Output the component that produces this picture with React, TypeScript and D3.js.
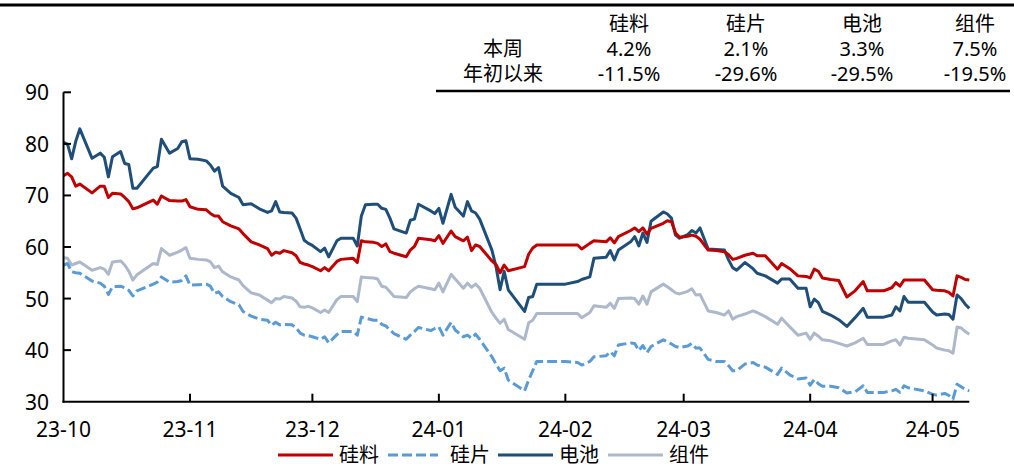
import React from "react";
import * as d3 from "d3";

const dates = ["2023-10-01","2023-10-02","2023-10-03","2023-10-04","2023-10-05","2023-10-08","2023-10-10","2023-10-11","2023-10-12","2023-10-13","2023-10-15","2023-10-16","2023-10-17","2023-10-18","2023-10-19","2023-10-23","2023-10-24","2023-10-25","2023-10-27","2023-10-29","2023-10-30","2023-10-31","2023-11-01","2023-11-03","2023-11-05","2023-11-06","2023-11-07","2023-11-08","2023-11-09","2023-11-11","2023-11-13","2023-11-14","2023-11-16","2023-11-18","2023-11-20","2023-11-21","2023-11-22","2023-11-23","2023-11-24","2023-11-26","2023-11-27","2023-11-28","2023-11-29","2023-11-30","2023-12-01","2023-12-03","2023-12-04","2023-12-05","2023-12-07","2023-12-08","2023-12-11","2023-12-12","2023-12-13","2023-12-14","2023-12-16","2023-12-17","2023-12-18","2023-12-19","2023-12-20","2023-12-21","2023-12-24","2023-12-25","2023-12-26","2023-12-27","2023-12-30","2023-12-31","2024-01-01","2024-01-02","2024-01-04","2024-01-05","2024-01-07","2024-01-08","2024-01-09","2024-01-10","2024-01-11","2024-01-14","2024-01-15","2024-01-16","2024-01-17","2024-01-18","2024-01-22","2024-01-23","2024-01-24","2024-01-25","2024-02-01","2024-02-04","2024-02-05","2024-02-07","2024-02-08","2024-02-11","2024-02-12","2024-02-13","2024-02-14","2024-02-17","2024-02-18","2024-02-19","2024-02-20","2024-02-21","2024-02-22","2024-02-25","2024-02-26","2024-02-27","2024-02-28","2024-02-29","2024-03-02","2024-03-03","2024-03-04","2024-03-05","2024-03-07","2024-03-09","2024-03-11","2024-03-12","2024-03-13","2024-03-14","2024-03-16","2024-03-18","2024-03-19","2024-03-21","2024-03-24","2024-03-25","2024-03-27","2024-03-29","2024-03-31","2024-04-01","2024-04-02","2024-04-03","2024-04-04","2024-04-06","2024-04-08","2024-04-10","2024-04-12","2024-04-14","2024-04-15","2024-04-19","2024-04-21","2024-04-22","2024-04-23","2024-04-24","2024-04-25","2024-04-29","2024-05-01","2024-05-02","2024-05-04","2024-05-05","2024-05-06","2024-05-07","2024-05-08","2024-05-09","2024-05-10"];

// 硅料
const polysilicon = [73.8,74.3,73.6,71.8,72.2,70.5,71.8,71.8,69.6,70.4,70.3,69.6,68.8,67.4,67.6,69.1,68.3,69.9,69.0,68.9,68.9,69.2,67.8,67.3,67.2,66.5,66.0,66.0,64.9,64.1,63.5,62.6,61.0,60.4,59.7,58.4,59.0,58.8,59.3,58.9,58.3,57.0,56.7,56.5,56.2,55.4,56.0,55.4,57.2,57.6,57.8,57.0,61.2,61.0,60.9,60.7,60.1,60.6,59.1,58.8,58.1,59.4,60.1,61.7,61.4,61.2,62.2,60.7,63.1,62.0,61.2,61.9,59.3,60.4,60.1,57.3,56.6,55.0,56.5,55.4,56.2,58.6,59.8,60.4,60.4,60.4,59.6,60.7,61.2,61.0,61.8,60.8,62.0,63.2,63.7,63.0,63.7,62.5,63.6,64.6,65.1,64.9,62.7,61.9,62.1,62.3,62.1,61.5,59.4,59.3,59.1,58.5,57.6,57.8,58.4,58.8,58.3,58.3,55.7,56.8,55.8,54.4,54.3,54.0,55.7,55.3,54.0,53.7,53.5,50.3,51.5,53.3,51.5,51.5,52.1,53.1,52.4,53.6,53.6,53.6,51.7,51.6,51.5,51.2,50.5,54.4,54.1,53.7,53.6];

// 硅片
const wafer = [56.5,56.8,55.2,55.0,54.9,53.4,53.0,52.4,50.8,52.3,52.4,52.1,51.6,50.5,51.5,52.8,53.2,54.2,53.2,53.3,53.5,54.4,52.6,52.7,52.8,52.4,51.0,51.3,50.4,49.4,48.8,47.5,46.6,46.0,45.8,44.8,45.4,44.9,45.0,44.9,44.4,43.3,42.9,42.8,42.6,42.1,42.6,41.4,43.0,43.6,43.6,42.9,46.4,46.2,45.8,45.8,45.0,44.7,43.9,43.2,42.1,42.9,43.6,44.4,43.8,44.2,44.5,42.9,45.4,43.9,42.6,42.9,42.3,43.1,42.1,38.7,37.3,36.0,36.5,34.2,32.1,34.2,36.0,37.8,37.8,37.6,37.1,37.8,38.7,38.9,39.7,38.9,41.0,41.4,41.3,39.9,40.9,39.5,40.7,42.0,41.6,41.2,40.7,40.5,40.8,41.3,40.4,40.4,38.2,37.8,37.8,37.0,36.0,36.0,37.3,37.6,37.1,36.7,35.3,36.5,35.2,34.4,34.6,33.2,34.3,33.5,33.0,33.0,32.7,31.7,31.9,33.1,31.8,31.8,32.1,32.4,31.8,33.1,32.7,32.1,31.4,31.3,31.6,31.2,30.5,33.4,32.9,32.4,32.1];

// 电池
const cell = [80.3,79.9,77.1,80.5,82.9,77.2,78.2,77.4,73.6,77.5,78.5,76.2,76.0,71.4,71.4,75.3,75.6,80.9,78.2,79.1,80.4,80.6,77.1,77.0,76.7,75.9,74.7,75.4,71.8,70.4,69.6,68.2,68.4,67.4,66.7,67.0,68.8,66.8,66.7,66.6,65.6,63.5,61.3,60.7,60.3,59.1,59.8,58.1,61.2,61.7,61.7,60.2,66.0,68.2,68.3,68.3,67.5,67.3,65.6,63.5,62.7,65.2,65.4,68.3,67.0,66.5,67.5,64.6,70.2,67.7,66.0,68.8,67.0,66.6,65.4,59.4,56.2,51.7,55.3,51.7,47.5,50.2,50.4,52.8,52.8,53.3,53.7,54.2,57.8,58.0,59.3,57.5,59.4,61.0,62.0,60.2,62.7,60.9,65.0,66.8,66.4,65.6,62.3,61.7,62.4,63.2,62.7,63.7,59.6,59.5,59.4,57.5,56.0,55.5,57.0,55.8,54.9,54.4,53.0,53.8,53.8,52.0,52.0,48.4,49.9,49.2,47.5,46.8,45.9,44.6,46.3,48.1,46.4,46.4,46.8,48.4,47.6,50.4,49.3,49.3,47.4,46.8,47.0,46.9,46.0,50.7,50.0,48.9,48.1];

// 组件
const modulePrice = [57.9,57.8,56.5,56.8,57.1,55.5,56.0,55.7,54.7,57.1,57.3,56.5,55.3,53.6,54.6,56.8,56.6,59.7,58.4,59.0,59.4,59.9,57.8,57.6,57.5,57.1,56.0,56.3,55.2,54.2,53.6,52.5,51.1,50.7,49.7,49.2,50.0,49.9,50.4,50.1,49.5,48.4,48.3,48.5,48.2,47.3,47.8,47.3,49.8,50.4,50.4,49.4,54.2,54.1,54.0,53.8,52.4,52.2,51.3,50.4,50.2,51.3,51.9,52.4,51.9,51.7,53.0,51.3,54.7,53.8,52.0,53.0,52.2,52.8,52.0,47.3,46.2,45.2,46.0,44.0,42.1,45.3,45.8,47.1,47.1,47.1,46.3,47.3,48.6,48.3,49.1,48.1,50.0,50.1,50.0,48.9,50.5,48.9,51.3,52.8,52.3,51.7,51.1,50.9,51.4,51.9,50.7,50.8,47.6,47.3,46.8,47.6,46.0,46.5,47.0,47.6,47.3,46.5,45.0,46.2,44.5,42.9,43.3,42.1,43.3,42.7,42.0,41.8,41.3,40.8,41.4,42.3,41.1,41.1,41.8,42.0,41.0,42.5,42.3,42.0,41.0,40.4,40.0,39.9,39.4,44.5,44.3,43.6,43.1];

const seriesNames = ["硅料", "硅片", "电池", "组件"];
const weekChange = ["4.2%", "2.1%", "3.3%", "7.5%"];
const ytdChange = ["-11.5%", "-29.6%", "-29.5%", "-19.5%"];
const rowLabels = ["本周", "年初以来"];
const yTicks = [30, 40, 50, 60, 70, 80, 90];

const FONT = "'Microsoft YaHei', 'Noto Sans', 'Noto Sans CJK SC', sans-serif";

export default function App() {
  const W = 1014, H = 467;
  const parse = d3.utcParse("%Y-%m-%d");
  const dts = dates.map((d) => parse(d) as Date);
  const x = d3
    .scaleUtc()
    .domain([parse("2023-10-01") as Date, parse("2024-05-10") as Date])
    .range([63.5, 969.3]);
  const y = d3.scaleLinear().domain([30, 90]).range([401.7, 92.3]);
  const monthTicks = d3.utcMonth.range(parse("2023-10-01") as Date, parse("2024-05-10") as Date);
  const fmt = d3.utcFormat("%y-%m");

  const series = [
    { name: seriesNames[0], values: polysilicon, color: "#C00000", dash: null },
    { name: seriesNames[1], values: wafer, color: "#5B9BD5", dash: "10,4" },
    { name: seriesNames[2], values: cell, color: "#1F4E79", dash: null },
    { name: seriesNames[3], values: modulePrice, color: "#ADB9CA", dash: null },
  ];
  const drawOrder = [3, 1, 2, 0];

  const colX = [629, 746, 862, 975];
  const labelX = 503;
  const legendLines = [278, 388, 498, 608];

  return (
    <svg
      width={W}
      height={H}
      style={{ position: "absolute", left: 0, top: 0, background: "#fff" }}
      fontFamily={FONT}
    >
      <rect x={0} y={0} width={W} height={H} fill="#fff" />
      <line x1={0} x2={W} y1={5} y2={5} stroke="#000" strokeWidth={3} />
      {seriesNames.map((n, i) => (
        <text key={"h" + i} x={colX[i]} y={31} textAnchor="middle" fontSize={20} fill="#000">
          {n}
        </text>
      ))}
      <text x={labelX} y={56} textAnchor="middle" fontSize={20} fill="#000">{rowLabels[0]}</text>
      <text x={labelX} y={81} textAnchor="middle" fontSize={20} fill="#000">{rowLabels[1]}</text>
      {weekChange.map((v, i) => (
        <text key={"w" + i} x={colX[i]} y={56} textAnchor="middle" fontSize={20} fill="#000">
          {v}
        </text>
      ))}
      {ytdChange.map((v, i) => (
        <text key={"ytd" + i} x={colX[i]} y={81} textAnchor="middle" fontSize={20} fill="#000">
          {v}
        </text>
      ))}
      <line x1={436} x2={1010} y1={91} y2={91} stroke="#000" strokeWidth={2.5} />

      {drawOrder.map((si) => {
        const s = series[si];
        const line = d3
          .line<number>()
          .x((_, i) => x(dts[i]))
          .y((v) => y(v));
        return (
          <path
            key={s.name}
            d={line(s.values) || ""}
            fill="none"
            stroke={s.color}
            strokeWidth={3}
            strokeDasharray={s.dash || undefined}
            strokeLinejoin="round"
          />
        );
      })}

      <line x1={63.5} x2={63.5} y1={y(90)} y2={y(30) + 1} stroke="#000" strokeWidth={2} />
      <line x1={62.5} x2={969.3} y1={y(30)} y2={y(30)} stroke="#000" strokeWidth={2} />
      {yTicks.map((t) => (
        <g key={"yt" + t}>
          {t > 30 && <line x1={63.5} x2={71} y1={y(t)} y2={y(t)} stroke="#000" strokeWidth={2} />}
          <text x={49} y={y(t)} textAnchor="end" dominantBaseline="central" fontSize={21} fill="#000">
            {t}
          </text>
        </g>
      ))}
      {monthTicks.map((m, i) => (
        <g key={"xt" + i}>
          {i > 0 && <line x1={x(m)} x2={x(m)} y1={y(30)} y2={y(30) - 8} stroke="#000" strokeWidth={2} />}
          <text x={x(m)} y={437} textAnchor="middle" fontSize={21} fill="#000">
            {fmt(m)}
          </text>
        </g>
      ))}

      {series.map((s, i) => (
        <g key={"lg" + i}>
          <line
            x1={legendLines[i]}
            x2={legendLines[i] + (i === 1 ? 50 : 55)}
            y1={455}
            y2={455}
            stroke={s.color}
            strokeWidth={3}
            strokeDasharray={s.dash || undefined}
          />
          <text
            x={legendLines[i] + (i === 1 ? 62 : 61)}
            y={462}
            fontSize={20}
            fill="#000"
          >
            {s.name}
          </text>
        </g>
      ))}
    </svg>
  );
}
